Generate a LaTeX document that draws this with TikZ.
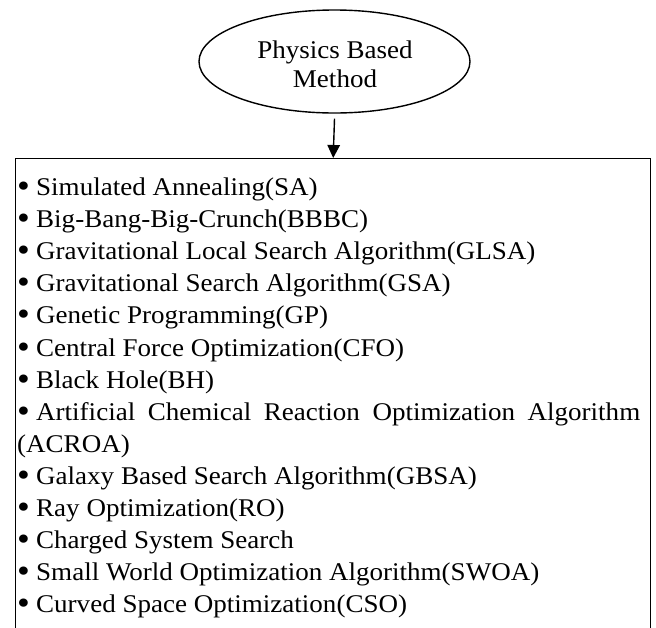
\documentclass[tikz,border=0pt]{standalone}
\usepackage{fontspec}
\setmainfont[FakeStretch=1.06]{Liberation Serif}
\usetikzlibrary{shapes.geometric,arrows.meta}
\tikzset{
  lineframe/.style={draw=black, line width=1.4pt},
  listline/.style={anchor=base west, inner sep=0pt, font=\fontsize{25.5}{30}\selectfont},
  conn/.style={line width=1.4pt, -{Triangle[width=12.5pt,length=13pt]}},
}
\newcommand{\bul}{\makebox[19pt][l]{\raisebox{-2pt}{\scalebox{1.35}{\textbullet}}}}
\begin{document}
\begin{tikzpicture}[x=1pt,y=-1pt]
\useasboundingbox (0,0) rectangle (656,627);
\clip (0,0) rectangle (656,627);
\node[lineframe, ellipse, minimum width=271pt, minimum height=103pt, inner sep=0pt] (m) at (334.5,61.5) {};
\node[align=center, inner sep=0pt, font=\fontsize{25.5}{29.4}\selectfont] (mt) at (335,64.5) {Physics Based\\Method};
\node[lineframe, rectangle, minimum width=635pt, minimum height=500pt, inner sep=0pt,
      anchor=north west] (list) at (15,158) {};
\draw[conn] ([yshift=-5pt]m.south) -- (list.north);
\foreach \t [count=\i from 0] in {
  {\bul Simulated Annealing(SA)},
  {\bul Big-Bang-Big-Crunch(BBBC)},
  {\bul Gravitational Local Search Algorithm(GLSA)},
  {\bul Gravitational Search Algorithm(GSA)},
  {\bul Genetic Programming(GP)},
  {\bul Central Force Optimization(CFO)},
  {\bul Black Hole(BH)},
  {\bul\makebox[604pt][s]{Artificial Chemical Reaction Optimization Algorithm}},
  {(ACROA)},
  {\bul Galaxy Based Search Algorithm(GBSA)},
  {\bul Ray Optimization(RO)},
  {\bul Charged System Search},
  {\bul Small World Optimization Algorithm(SWOA)},
  {\bul Curved Space Optimization(CSO)}}
  \node[listline] (l\i) at (17, 195.5+32.1*\i) {\t};
\end{tikzpicture}
\end{document}
